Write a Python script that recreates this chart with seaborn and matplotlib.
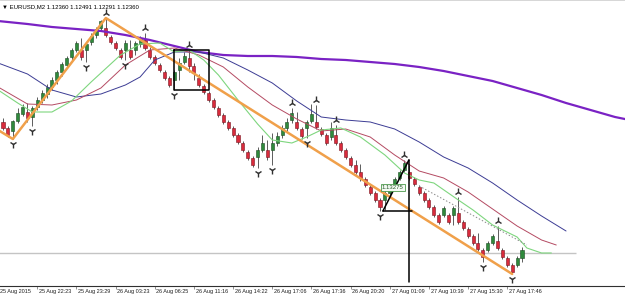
import numpy as np
import matplotlib
matplotlib.use("Agg")
import matplotlib.pyplot as plt
import seaborn as sns

# ---------------- data ----------------
title_text = "\u25bc EURUSD,M2 1.12360 1.12491 1.12291 1.12360"
current_price = 1.12360

opens = [1.14194, 1.14110, 1.14068, 1.14208, 1.14306, 1.14334, 1.14264, 1.14404, 1.14502, 1.14586,
         1.14684, 1.14782, 1.14894, 1.14992, 1.15104, 1.15202, 1.15202, 1.15202, 1.15314, 1.15412,
         1.15510, 1.15510, 1.15384, 1.15300, 1.15202, 1.15202, 1.15202, 1.15202, 1.15286, 1.15342,
         1.15202, 1.15104, 1.14992, 1.14894, 1.14810, 1.14782, 1.14922, 1.15034, 1.15090, 1.14978,
         1.14810, 1.14698, 1.14600, 1.14502, 1.14390, 1.14292, 1.14194, 1.14110, 1.14012, 1.13900,
         1.13774, 1.13690, 1.13704, 1.13802, 1.13802, 1.13802, 1.13900, 1.14012, 1.14110, 1.14222,
         1.14194, 1.14096, 1.14110, 1.14208, 1.14194, 1.14096, 1.14012, 1.13984, 1.14012, 1.13900,
         1.13802, 1.13690, 1.13592, 1.13494, 1.13396, 1.13284, 1.13200, 1.13102, 1.13102, 1.13200,
         1.13298, 1.13410, 1.13522, 1.13494, 1.13396, 1.13284, 1.13200, 1.13102, 1.13004, 1.12892,
         1.12892, 1.12892, 1.12892, 1.12920, 1.12794, 1.12696, 1.12598, 1.12500, 1.12402, 1.12402,
         1.12500, 1.12528, 1.12402, 1.12290, 1.12192, 1.12192, 1.12290]
closes = [1.14110, 1.14012, 1.14208, 1.14320, 1.14404, 1.14250, 1.14390, 1.14502, 1.14600, 1.14684,
          1.14782, 1.14894, 1.15006, 1.15090, 1.15202, 1.15300, 1.15104, 1.15286, 1.15398, 1.15496,
          1.15608, 1.15412, 1.15314, 1.15230, 1.15104, 1.15300, 1.15104, 1.15300, 1.15370, 1.15230,
          1.15104, 1.15020, 1.14922, 1.14810, 1.14712, 1.14894, 1.15020, 1.15118, 1.14978, 1.14880,
          1.14712, 1.14614, 1.14502, 1.14404, 1.14292, 1.14194, 1.14110, 1.14012, 1.13914, 1.13802,
          1.13690, 1.13592, 1.13802, 1.13900, 1.13704, 1.13900, 1.13998, 1.14110, 1.14194, 1.14320,
          1.14110, 1.13998, 1.14194, 1.14306, 1.14124, 1.14026, 1.13900, 1.14110, 1.13900, 1.13802,
          1.13704, 1.13592, 1.13494, 1.13410, 1.13312, 1.13200, 1.13102, 1.13004, 1.13200, 1.13284,
          1.13396, 1.13494, 1.13620, 1.13410, 1.13326, 1.13200, 1.13102, 1.13004, 1.12892, 1.12794,
          1.12990, 1.12794, 1.12990, 1.12794, 1.12710, 1.12598, 1.12500, 1.12416, 1.12304, 1.12500,
          1.12598, 1.12430, 1.12304, 1.12192, 1.12094, 1.12290, 1.12402]
highs = [1.14250, 1.14138, 1.14222, 1.14390, 1.14446, 1.14460, 1.14418, 1.14544, 1.14642, 1.14726,
         1.14824, 1.14922, 1.15034, 1.15118, 1.15230, 1.15328, 1.15370, 1.15314, 1.15440, 1.15524,
         1.15622, 1.15650, 1.15412, 1.15328, 1.15230, 1.15342, 1.15342, 1.15328, 1.15398, 1.15440,
         1.15244, 1.15132, 1.15020, 1.14922, 1.14838, 1.14922, 1.15090, 1.15174, 1.15202, 1.15020,
         1.14866, 1.14726, 1.14628, 1.14530, 1.14418, 1.14320, 1.14222, 1.14138, 1.14040, 1.13928,
         1.13802, 1.13718, 1.13844, 1.14012, 1.13942, 1.14040, 1.14054, 1.14152, 1.14250, 1.14390,
         1.14334, 1.14124, 1.14222, 1.14446, 1.14432, 1.14124, 1.14040, 1.14194, 1.14152, 1.13928,
         1.13830, 1.13718, 1.13662, 1.13606, 1.13424, 1.13312, 1.13228, 1.13130, 1.13242, 1.13312,
         1.13424, 1.13522, 1.13662, 1.13592, 1.13424, 1.13312, 1.13228, 1.13130, 1.13032, 1.12920,
         1.13018, 1.12920, 1.13018, 1.13144, 1.12822, 1.12724, 1.12626, 1.12640, 1.12430, 1.12528,
         1.12626, 1.12738, 1.12430, 1.12318, 1.12220, 1.12318, 1.12444]
lows = [1.14082, 1.13984, 1.13956, 1.14180, 1.14278, 1.14194, 1.14138, 1.14362, 1.14460, 1.14530,
        1.14642, 1.14726, 1.14838, 1.14950, 1.15062, 1.15174, 1.15062, 1.15034, 1.15272, 1.15370,
        1.15482, 1.15384, 1.15286, 1.15202, 1.15076, 1.15062, 1.15076, 1.15132, 1.15244, 1.15202,
        1.15076, 1.14992, 1.14894, 1.14782, 1.14684, 1.14642, 1.14782, 1.15006, 1.14894, 1.14782,
        1.14684, 1.14586, 1.14474, 1.14376, 1.14264, 1.14166, 1.14082, 1.13984, 1.13886, 1.13774,
        1.13662, 1.13564, 1.13550, 1.13774, 1.13662, 1.13592, 1.13858, 1.13970, 1.14068, 1.14180,
        1.14082, 1.13956, 1.13970, 1.14180, 1.14096, 1.13998, 1.13872, 1.13942, 1.13872, 1.13774,
        1.13676, 1.13564, 1.13466, 1.13368, 1.13284, 1.13172, 1.13074, 1.12948, 1.12962, 1.13172,
        1.13270, 1.13382, 1.13494, 1.13382, 1.13298, 1.13172, 1.13074, 1.12976, 1.12864, 1.12766,
        1.12864, 1.12766, 1.12752, 1.12766, 1.12682, 1.12570, 1.12472, 1.12388, 1.12234, 1.12374,
        1.12472, 1.12402, 1.12276, 1.12164, 1.12066, 1.12164, 1.12234]

# moving averages (candle index, price)
purple_idx = [-1, 5, 10, 15, 20, 25, 30, 35, 40, 45, 50, 55, 60, 65, 70, 75, 80, 85, 90, 95,
              100, 105, 110, 115, 120, 125, 128]
purple_val = [1.15608, 1.15566, 1.15524, 1.15496, 1.15468, 1.15412, 1.15342, 1.15258, 1.15174, 1.15132,
              1.15118, 1.15118, 1.15104, 1.15076, 1.15062, 1.15034, 1.15006, 1.14964, 1.14908, 1.14838,
              1.14768, 1.14670, 1.14572, 1.14460, 1.14362, 1.14264, 1.14222]
blue_idx = [-1, 5, 10, 15, 20, 25, 28, 31, 35, 40, 45, 50, 55, 60, 65, 70, 75, 80, 85, 90,
            95, 100, 105, 110, 115]
blue_val = [1.15020, 1.14866, 1.14642, 1.14544, 1.14586, 1.14712, 1.14824, 1.15062, 1.15174, 1.15174,
            1.15090, 1.14922, 1.14740, 1.14488, 1.14264, 1.14222, 1.14194, 1.14096, 1.13914, 1.13704,
            1.13550, 1.13340, 1.13102, 1.12878, 1.12668]
red_idx = [-1, 5, 10, 15, 20, 25, 30, 35, 40, 45, 50, 55, 60, 65, 70, 75, 80, 85, 90, 95,
           100, 105, 110, 113]
red_val = [1.14684, 1.14446, 1.14432, 1.14502, 1.14670, 1.14992, 1.15202, 1.15230, 1.15132, 1.14964,
           1.14684, 1.14432, 1.14236, 1.14068, 1.14096, 1.13984, 1.13732, 1.13508, 1.13410, 1.13214,
           1.12976, 1.12738, 1.12542, 1.12472]
green_idx = [-1, 3, 6, 10, 14, 18, 20, 24, 28, 32, 35, 38, 41, 44, 48, 52, 55, 59, 62, 65,
             69, 73, 78, 82, 85, 88, 93, 96, 100, 105, 107, 110, 112]
green_val = [1.14642, 1.14460, 1.14334, 1.14334, 1.14488, 1.14754, 1.14880, 1.15132, 1.15286, 1.15300,
             1.15174, 1.15202, 1.15062, 1.14852, 1.14502, 1.14166, 1.13942, 1.13900, 1.13984, 1.14082,
             1.14110, 1.13984, 1.13732, 1.13480, 1.13382, 1.13340, 1.13102, 1.12962, 1.12752, 1.12584,
             1.12430, 1.12360, 1.12360]

# zigzag (orange) pivots
zz_idx = [-1, 2, 21, 104]
zz_val = [1.14082, lows[2], highs[21], lows[104]]

# fractal markers (candle indices)
up_fractals = [21, 29, 38, 59, 64, 68, 82, 93, 101]
down_fractals = [2, 6, 17, 25, 35, 52, 55, 62, 77, 98, 104]

# projection dotted line
dot_idx = [85, 107]
dot_val = [1.13298, 1.12472]

label_price = "1.13275"

tick_idx = [-1, 7, 15, 23, 31, 39, 47, 55, 63, 71, 79, 87, 95, 103]
tick_labels = ["25 Aug 2015", "25 Aug 22:23", "25 Aug 23:29", "26 Aug 03:23", "26 Aug 06:25",
               "26 Aug 11:16", "26 Aug 14:22", "26 Aug 17:06", "26 Aug 17:36", "26 Aug 20:20",
               "27 Aug 01:09", "27 Aug 10:39", "27 Aug 15:30", "27 Aug 17:46"]

# ---------------- drawing ----------------
sns.set_theme(style="white")
plt.rcParams['font.family'] = ['Liberation Sans', 'DejaVu Sans']

fig = plt.figure(figsize=(6.25, 2.97), dpi=100)
ax = fig.add_axes([0, 11 / 297, 1, 286 / 297])

o = np.array(opens); c = np.array(closes); h = np.array(highs); l = np.array(lows)
idx = np.arange(len(o))
bull = c >= o

# price line
ax.hlines(current_price, -1, 117, color='#c4c4c4', lw=1.0, zorder=1)

# wicks and bodies
ax.vlines(idx, l, h, color='#5c5c5c', lw=0.7, zorder=2)
bb = np.minimum(o, c); bh = np.abs(c - o)
ax.bar(idx[bull], bh[bull], bottom=bb[bull], width=0.62, color='#2f8a3c',
       edgecolor='#1c4a22', linewidth=0.4, zorder=3)
ax.bar(idx[~bull], bh[~bull], bottom=bb[~bull], width=0.62, color='#d92b3c',
       edgecolor='#7a1620', linewidth=0.4, zorder=3)

# moving averages
sns.lineplot(x=purple_idx, y=purple_val, ax=ax, color='#7a22c4', lw=1.6, sort=False,
             estimator=None, zorder=4)
sns.lineplot(x=blue_idx, y=blue_val, ax=ax, color='#3c3c94', lw=0.7, sort=False,
             estimator=None, zorder=4)
sns.lineplot(x=red_idx, y=red_val, ax=ax, color='#b44a62', lw=0.7, sort=False,
             estimator=None, zorder=4)
sns.lineplot(x=green_idx, y=green_val, ax=ax, color='#7ed67e', lw=0.8, sort=False,
             estimator=None, zorder=4)

# zigzag
ax.plot(zz_idx, zz_val, color='#f0a04a', lw=1.8, zorder=5, solid_capstyle='round')

# dotted projection
ax.plot(dot_idx, dot_val, color='#888888', lw=0.7, ls=(0, (1.5, 2)), zorder=4)

# fractals
ax.plot(up_fractals, h[up_fractals] + 0.0007, ls='none', marker='2', ms=5.5, mew=1.0,
        color='#303030', zorder=6)
ax.plot(down_fractals, l[down_fractals] - 0.0007, ls='none', marker='1', ms=5.5, mew=1.0,
        color='#303030', zorder=6)

# box annotation over candles 35..42
bx0, bx1 = 35, 42
ax.plot([bx0, bx1, bx1, bx0, bx0], [h[38], h[38], l[35], l[35], h[38]],
        color='black', lw=1.1, zorder=7)

# triangle annotation (low of 77 to high of 82)
lo_a, hi_a = l[77], h[82]
ax.plot([77.6, 83.5], [lo_a, lo_a], color='black', lw=1.1, zorder=7)
ax.plot([77.6, 82.9], [lo_a, hi_a], color='black', lw=1.1, zorder=7)
ax.plot([82.9, 82.9], [hi_a, 1.11950], color='black', lw=1.1, zorder=7)
ax.text(77.4, float(label_price), label_price, fontsize=4.3, color='#2a5a2a',
        ha='left', va='center', zorder=8,
        bbox=dict(boxstyle='square,pad=0.15', fc='#f4fbf4', ec='#4c9a4c', lw=0.6))

# axes limits & styling
ax.set_xlim(-0.613, 127.04)
ax.set_ylim(1.11898, 1.15902)
ax.set_yticks([])
ax.set_xticks([t for t in tick_idx if t >= 0])
ax.set_xticklabels([])
ax.tick_params(axis='x', direction='out', length=2.5, width=0.5, colors='#666666', bottom=True)
for t, lab in zip(tick_idx, tick_labels):
    ax.text(t + 0.35, -0.012, lab, transform=ax.get_xaxis_transform(), ha='left', va='top',
            fontsize=4.0, color='#202020', clip_on=False)
ax.set_xlabel(''); ax.set_ylabel('')
for s in ['left', 'right']:
    ax.spines[s].set_visible(False)
ax.spines['bottom'].set_color('#303030'); ax.spines['bottom'].set_linewidth(0.8)
ax.spines['top'].set_color('#d0d0d0'); ax.spines['top'].set_linewidth(0.6)

fig.text(2 / 625, 1 - 7 / 297, title_text, fontsize=4.3, color='black', ha='left', va='center')

fig.savefig("out.png", dpi=100, facecolor='white')
